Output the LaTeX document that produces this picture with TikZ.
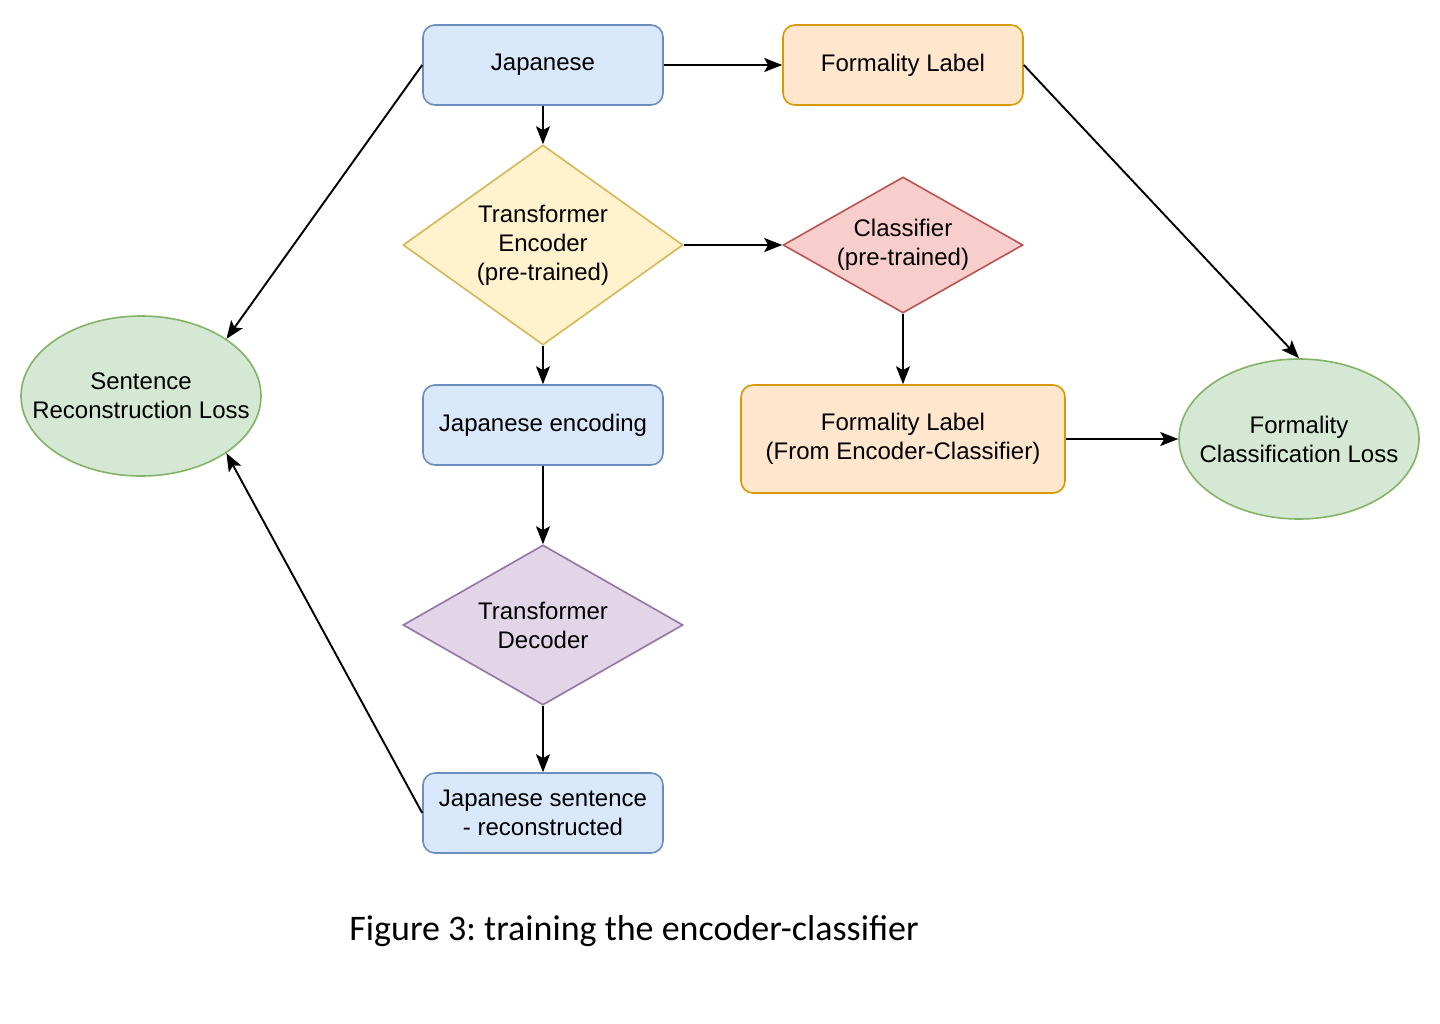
\documentclass[tikz,border=0pt]{standalone}
\usepackage{fontspec}
\setmainfont{Liberation Sans}
\newfontfamily\captionfont{Carlito}
\usepackage{tikz}
\usetikzlibrary{shapes}
\usetikzlibrary{arrows.meta}

\definecolor{blueFill}{HTML}{DAE8FC}
\definecolor{blueLine}{HTML}{6C8EBF}
\definecolor{orangeFill}{HTML}{FFE6CC}
\definecolor{orangeLine}{HTML}{D79B00}
\definecolor{yellowFill}{HTML}{FFF2CC}
\definecolor{yellowLine}{HTML}{D6B656}
\definecolor{redFill}{HTML}{F8CECC}
\definecolor{redLine}{HTML}{B85450}
\definecolor{purpleFill}{HTML}{E1D5E7}
\definecolor{purpleLine}{HTML}{9673A6}
\definecolor{greenFill}{HTML}{D5E8D4}
\definecolor{greenLine}{HTML}{82B366}

\frenchspacing

\begin{document}
\begin{tikzpicture}[
	x=1pt, y=-1pt,
	>={Stealth[length=18pt,width=14pt,inset=4pt]},
	font=\fontsize{24}{29}\selectfont]

\tikzstyle{block}=[rectangle, rounded corners=12pt, minimum width=240pt,
	minimum height=80pt, line width=1.6pt, align=center]
\tikzstyle{decision}=[diamond, inner sep=0pt, line width=1.6pt, align=center]
\tikzstyle{loss}=[ellipse, inner sep=0pt, inner xsep=-25pt,
	minimum width=240pt, minimum height=160pt,
	line width=1.6pt, align=center, fill=greenFill, draw=greenLine]
\tikzstyle{flow}=[->, line width=1.9pt]

\useasboundingbox (0,0) rectangle (1440,1023);

% input and target label
\node[block, fill=blueFill, draw=blueLine] (japanese) at (543,65) {Japanese};
\node[block, fill=orangeFill, draw=orangeLine] (label) at (903,65) {Formality Label};

% encoder and classifier
\node[decision, fill=yellowFill, draw=yellowLine, shape aspect=1.4,
	minimum width=280pt, minimum height=200pt] (encoder) at (543,245)
	{Transformer\\Encoder\\(pre-trained)};
\node[decision, fill=redFill, draw=redLine, shape aspect=1.76,
	minimum width=240pt, minimum height=136pt] (classifier) at (903,245)
	{Classifier\\(pre-trained)};

% encoding and predicted label
\node[block, fill=blueFill, draw=blueLine] (encoding) at (543,425) {Japanese encoding};
\node[block, fill=orangeFill, draw=orangeLine,
	minimum width=324pt, minimum height=108pt] (predlabel) at (903,439)
	{Formality Label\\(From Encoder-Classifier)};

% decoder
\node[decision, fill=purpleFill, draw=purpleLine, shape aspect=1.75,
	minimum width=280pt, minimum height=160pt] (decoder) at (543,625)
	{Transformer\\Decoder};
\node[block, fill=blueFill, draw=blueLine] (recon) at (543,813)
	{Japanese sentence\\- reconstructed};

% losses
\node[loss] (sentloss) at (141,396) {Sentence\\Reconstruction Loss};
\node[loss] (formloss) at (1299,439) {Formality\\Classification Loss};

% caption
\node[font=\captionfont\fontsize{36}{43}\selectfont] (caption) at (634,931)
	{Figure 3: training the encoder-classifier};

% connectors
\draw[flow] (japanese) -- (label);
\draw[flow] (japanese) -- (encoder);
\draw[flow] (japanese.west) -- (sentloss.north east);
\draw[flow] (label.east) -- (formloss.north);
\draw[flow] (encoder) -- (classifier);
\draw[flow] (encoder) -- (encoding);
\draw[flow] (classifier) -- (predlabel);
\draw[flow] (predlabel) -- (formloss);
\draw[flow] (encoding) -- (decoder);
\draw[flow] (decoder) -- (recon);
\draw[flow] (recon.west) -- (sentloss.south east);

\end{tikzpicture}
\end{document}
